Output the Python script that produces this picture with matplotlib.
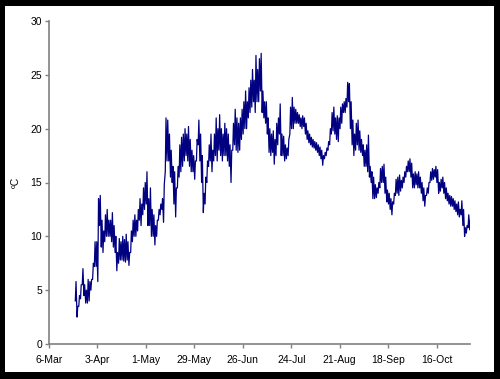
import datetime as dt

import matplotlib
matplotlib.use("Agg")
import matplotlib.pyplot as plt
from matplotlib.patches import Rectangle

# leituras diárias (mín, máx) tiradas do gráfico, a partir de 21-Mar
start_day = dt.date(2006, 3, 21)
daily_lo = [
    4.0, 2.5, 3.5, 4.2, 5.5, 4.5, 3.8, 3.8, 4.0, 5.0, 6.0, 7.2, 7.2, 5.8, 11.0, 9.0,
    8.5, 9.5, 10.0, 10.0, 10.0, 9.5, 9.0, 8.5, 6.8, 7.5, 7.8, 7.8, 7.7, 7.6, 7.8, 7.3,
    8.5, 9.5, 10.0, 10.0, 10.5, 11.5, 11.0, 12.0, 12.5, 13.0, 11.0, 11.0, 10.0, 10.0, 9.2, 10.0,
    11.5, 12.0, 12.5, 11.3, 16.0, 17.0, 17.0, 15.5, 15.0, 13.0, 11.8, 14.5, 15.5, 16.0, 16.5, 17.0,
    17.5, 17.0, 16.5, 16.0, 16.0, 15.3, 17.0, 18.5, 17.0, 15.0, 12.2, 13.0, 15.0, 16.5, 17.0, 16.0,
    17.0, 17.5, 17.0, 18.0, 17.5, 17.0, 17.5, 17.5, 17.0, 16.5, 15.0, 18.0, 18.5, 18.0, 17.8, 18.0,
    19.0, 19.5, 20.0, 20.0, 21.0, 21.5, 22.0, 22.5, 21.5, 22.5, 22.5, 23.5, 21.5, 21.0, 20.5, 19.5,
    17.8, 17.5, 17.8, 16.7, 17.5, 18.5, 19.5, 17.5, 17.5, 17.0, 17.2, 17.5, 19.5, 20.0, 20.0, 20.5,
    20.5, 20.5, 20.2, 20.0, 20.2, 19.5, 19.0, 18.7, 18.5, 18.3, 18.2, 18.0, 17.8, 17.5, 17.2, 16.6,
    17.2, 17.5, 18.0, 18.5, 19.5, 19.8, 19.5, 19.0, 18.8, 20.0, 20.5, 21.5, 21.5, 22.0, 22.5, 20.0,
    18.5, 17.5, 18.0, 18.5, 18.0, 17.8, 17.5, 16.5, 16.5, 16.0, 15.5, 15.0, 13.5, 13.5, 13.6, 14.0,
    14.5, 15.0, 15.0, 14.0, 13.2, 13.0, 12.5, 12.0, 13.0, 13.8, 14.0, 13.8, 14.2, 14.5, 15.0, 15.5,
    16.0, 16.0, 15.5, 14.5, 14.5, 14.8, 14.5, 14.5, 14.0, 13.3, 12.8, 13.8, 14.0, 15.0, 15.2, 15.3,
    15.5, 15.0, 14.0, 14.2, 14.5, 14.0, 13.5, 13.3, 13.0, 12.8, 12.8, 12.5, 12.3, 12.0, 11.8, 12.0,
    11.0, 10.0, 10.3, 10.8, 10.6,
]
daily_hi = [
    5.8, 3.5, 4.5, 5.5, 7.0, 5.5, 5.0, 6.0, 5.8, 6.0, 7.5, 9.5, 9.5, 13.5, 13.8, 11.5,
    10.5, 12.0, 12.5, 11.5, 11.5, 12.2, 11.0, 10.0, 8.5, 9.8, 9.5, 10.0, 9.7, 10.2, 9.5, 8.5,
    10.5, 11.5, 12.0, 11.5, 12.5, 13.5, 13.0, 14.5, 15.0, 16.0, 13.5, 14.5, 12.5, 12.0, 11.0, 11.5,
    12.5, 13.0, 13.5, 14.8, 21.0, 20.8, 19.5, 18.0, 16.5, 16.0, 14.5, 16.5, 18.5, 19.2, 19.5, 20.0,
    19.5, 20.2, 19.0, 18.0, 17.5, 17.0, 19.0, 20.8, 19.5, 17.5, 14.0, 15.5, 17.0, 18.5, 19.5, 18.0,
    19.5, 21.0, 20.0, 21.3, 20.0, 19.5, 20.5, 20.0, 19.5, 18.5, 18.0, 20.5, 21.8, 21.0, 20.5, 21.0,
    21.8, 22.5, 23.5, 22.5, 23.8, 24.5, 25.5, 24.5, 26.8, 25.5, 26.5, 27.0, 23.5, 22.5, 22.5, 21.0,
    20.0, 19.5, 19.8, 19.0, 20.5, 21.0, 22.3, 19.5, 19.3, 18.5, 18.2, 19.0, 22.0, 22.9, 22.0, 21.8,
    21.5, 21.3, 21.0, 21.2, 21.0, 20.5, 19.8, 19.5, 19.2, 19.0, 18.8, 18.7, 18.5, 18.3, 18.0, 17.5,
    17.8, 18.2, 18.8, 20.0, 21.5, 22.0, 21.0, 21.2, 21.0, 22.0, 22.3, 22.5, 22.8, 24.3, 24.2, 22.5,
    20.8, 19.5, 20.5, 20.8, 19.8, 19.0, 18.5, 18.0, 18.5, 19.4, 16.5, 16.0, 15.5, 14.8, 14.5, 15.0,
    16.3, 16.5, 16.7, 15.5, 14.3, 14.0, 13.5, 13.2, 14.0, 15.3, 15.5, 15.7, 15.2, 15.5, 16.0, 16.5,
    17.0, 17.2, 16.8, 15.8, 16.0, 15.8, 16.0, 15.5, 15.0, 14.5, 13.8, 14.5, 15.0, 16.0, 16.3, 16.2,
    16.5, 16.2, 15.0, 15.3, 15.5, 15.0, 14.5, 14.0, 13.8, 13.7, 13.5, 13.3, 13.0, 13.2, 12.5, 13.3,
    12.5, 10.8, 11.0, 12.0, 11.5,
]
tick_labels = ["6-Mar", "3-Apr", "1-May", "29-May", "26-Jun", "24-Jul", "21-Aug", "18-Sep", "16-Oct"]

# série intercalada: mínimo de madrugada, máximo à tarde
times, temps = [], []
for i, (lo, hi) in enumerate(zip(daily_lo, daily_hi)):
    day = dt.datetime.combine(start_day, dt.time()) + dt.timedelta(days=i)
    times += [day + dt.timedelta(hours=5), day + dt.timedelta(hours=15)]
    temps += [lo, hi]

plt.rcParams["font.family"] = ["Liberation Sans", "DejaVu Sans"]

fig = plt.figure(figsize=(5.0, 3.79), dpi=100, facecolor="black")
# painel branco dentro da moldura preta; zorder negativo pra ficar atrás dos eixos
fig.patches.append(Rectangle((5 / 500, 7 / 379), 489 / 500, 366 / 379,
                             transform=fig.transFigure, facecolor="white",
                             edgecolor="none", zorder=-10))

ax = fig.add_axes([49 / 500, 35 / 379, 421 / 500, 323 / 379])
ax.set_facecolor("white")
ax.plot(times, temps, color="#000080", lw=0.9)

x0 = dt.datetime(2006, 3, 6)
ticks = [x0 + dt.timedelta(days=28 * k) for k in range(len(tick_labels))]
ax.set_xticks(ticks)
ax.set_xticklabels(tick_labels)
ax.set_xlim(x0, dt.datetime(2006, 11, 4, 8))
ax.set_ylim(0, 30)
ax.set_yticks(range(0, 31, 5))

for s in ("top", "right"):
    ax.spines[s].set_visible(False)
for s in ("left", "bottom"):
    ax.spines[s].set_color("#808080")
    ax.spines[s].set_linewidth(1.2)
ax.tick_params(colors="#808080", length=3, width=1, labelsize=7.5, labelcolor="black", pad=2)
ax.tick_params(axis="x", pad=5)
ax.set_ylabel("ºC", fontsize=7.5)
ax.yaxis.set_label_coords(-0.066, 0.5)

fig.savefig("out.png", dpi=100, facecolor="black")
